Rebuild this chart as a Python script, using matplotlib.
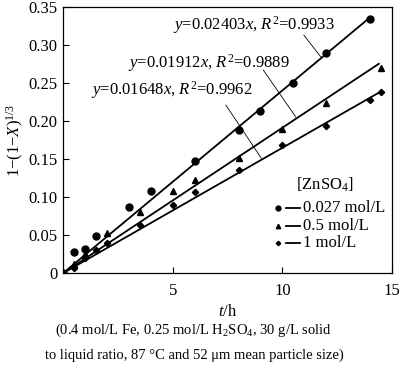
import numpy as np
import matplotlib
matplotlib.use("Agg")
import matplotlib.pyplot as plt

plt.rcParams['font.family'] = ['Liberation Serif', 'DejaVu Serif']
plt.rcParams['mathtext.fontset'] = 'custom'
plt.rcParams['mathtext.rm'] = 'Liberation Serif'
plt.rcParams['mathtext.it'] = 'Liberation Serif:italic'

# 0.027 mol/L ZnSO4
t_a = [0, 0.5, 1.0, 1.5, 3.0, 4.0, 6.0, 8.0, 9.0, 10.5, 12.0, 14.0]
y_a = [0, 0.028, 0.032, 0.049, 0.087, 0.108, 0.148, 0.188, 0.213, 0.250, 0.290, 0.334]
# 0.5 mol/L ZnSO4
t_b = [0, 0.5, 1.0, 2.0, 3.5, 5.0, 6.0, 8.0, 10.0, 12.0, 14.5]
y_b = [0, 0.012, 0.025, 0.053, 0.080, 0.108, 0.122, 0.152, 0.190, 0.224, 0.270]
# 1 mol/L ZnSO4
t_c = [0, 0.5, 1.0, 1.5, 2.0, 3.5, 5.0, 6.0, 8.0, 10.0, 12.0, 14.0, 14.5]
y_c = [0, 0.006, 0.020, 0.030, 0.040, 0.063, 0.089, 0.106, 0.135, 0.168, 0.193, 0.228, 0.238]

slopes = [0.02403, 0.01912, 0.01648]
r2 = ['0.9933', '0.9889', '0.9962']
line_end = [14.0, 14.4, 14.5]
labels = ['0.027 mol/L', '0.5 mol/L', '1 mol/L']

fig = plt.figure(figsize=(4.0, 3.7), dpi=100)
ax = fig.add_axes([0.158, 0.262, 0.822, 0.719])

series = [(t_a, y_a, 'o', 5), (t_b, y_b, '^', 4.5), (t_c, y_c, 'D', 3.2)]
for (t, y, m, ms), k, te in zip(series, slopes, line_end):
    ax.plot(t, y, m, color='black', ms=ms, zorder=3)
    xx = np.array([0, te])
    ax.plot(xx, k * xx, color='black', lw=1.3)

# equation labels with leader lines
txt_pos = [(5.0, 0.326), (2.95, 0.276), (1.25, 0.241)]
lead = [((10.98, 0.313), (11.79, 0.283)),
        ((9.13, 0.267), (10.62, 0.205)),
        ((7.42, 0.221), (9.04, 0.151))]
for (tx, ty), k, r, ((x0, y0), (x1, y1)) in zip(txt_pos, slopes, r2, lead):
    ax.text(tx, ty, r'$y$=%.5f$x$, $R^2$=%s' % (k, r), fontsize=12,
            va='center', ha='left')
    ax.plot([x0, x1], [y0, y1], color='black', lw=0.6)

# legend block
ax.text(11.95, 0.116, r'[ZnSO$_4$]', fontsize=12, ha='center', va='center')
leg_y = [0.086, 0.062, 0.040]
for (t, y, m, ms), ly, lab in zip(series, leg_y, labels):
    ax.plot([9.8], [ly], m, color='black', ms=ms * 0.7)
    ax.plot([10.15, 10.8], [ly, ly], color='black', lw=1.3)
    ax.text(10.95, ly, lab, fontsize=12, va='center', ha='left')

ax.set_xlim(0, 15)
ax.set_ylim(0, 0.35)
ax.set_xticks([5, 10, 15])
ax.set_yticks(np.arange(0, 0.351, 0.05))
ax.set_yticklabels(['0'] + ['%.2f' % v for v in np.arange(0.05, 0.351, 0.05)])
ax.tick_params(direction='in', length=4, width=0.8, labelsize=12, pad=4)
ax.tick_params(axis='x', pad=7)
for s in ax.spines.values():
    s.set_linewidth(0.9)

ax.set_ylabel(r'1$-$(1$-$$X$)$^{1/3}$', fontsize=12, labelpad=2)
ax.set_xlabel(r'$t$/h', fontsize=12, labelpad=4)

fig.text(0.485, 0.108, '(0.4 mol/L Fe, 0.25 mol/L H$_2$SO$_4$, 30 g/L solid',
         ha='center', va='center', fontsize=10.5)
fig.text(0.485, 0.04, 'to liquid ratio, 87 °C and 52 μm mean particle size)',
         ha='center', va='center', fontsize=10.5)

fig.savefig('out.png', dpi=100)
